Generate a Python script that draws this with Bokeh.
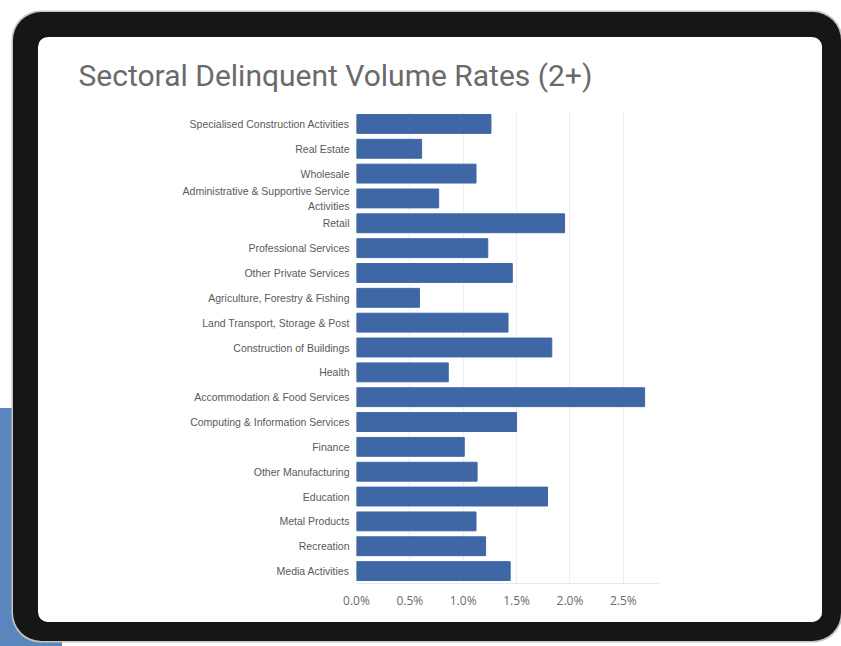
from bokeh.plotting import figure
from bokeh.models import FactorRange, Range1d, FixedTicker, PrintfTickFormatter
from bokeh.embed import file_html
from bokeh.resources import INLINE

title_text = "Sectoral Delinquent Volume Rates (2+)"

sectors = [
    "Specialised Construction Activities",
    "Real Estate",
    "Wholesale",
    "Administrative & Supportive Service\nActivities",
    "Retail",
    "Professional Services",
    "Other Private Services",
    "Agriculture, Forestry & Fishing",
    "Land Transport, Storage & Post",
    "Construction of Buildings",
    "Health",
    "Accommodation & Food Services",
    "Computing & Information Services",
    "Finance",
    "Other Manufacturing",
    "Education",
    "Metal Products",
    "Recreation",
    "Media Activities",
]

rates = [1.26, 0.61, 1.12, 0.77, 1.95, 1.23, 1.46, 0.59, 1.42, 1.83,
         0.86, 2.70, 1.50, 1.01, 1.13, 1.79, 1.12, 1.21, 1.44]

x_ticks = [0.0, 0.5, 1.0, 1.5, 2.0, 2.5]
x_max = 2.83

bar_color = "#3f67a6"

p = figure(
    width=784, height=585,
    y_range=FactorRange(factors=list(reversed(sectors))),
    x_range=Range1d(0, x_max),
    output_backend="svg", toolbar_location=None,
    margin=(37, 0, 0, 38),
    min_border_left=318, min_border_right=164,
    min_border_top=74, min_border_bottom=39,
    styles={
        "border-radius": "10px",
        "overflow": "hidden",
        "box-shadow": "-3px -3px 0 22px #161616, -3px -3px 0 23.5px #c4c4c4, -760px 371px 0 0 #5b86bd",
    },
)

p.hbar(y=sectors, right=rates, left=0, height=0.76, fill_color=bar_color,
       line_color=bar_color)

p.title.text = title_text
p.title.text_font = "Roboto"
p.title.text_font_style = "normal"
p.title.text_font_size = "30px"
p.title.text_color = "#6a6a6a"
p.title.offset = -278
p.title.standoff = 37

p.background_fill_color = "white"
p.border_fill_color = "white"
p.outline_line_color = None

p.xaxis.ticker = FixedTicker(ticks=x_ticks)
p.xaxis.formatter = PrintfTickFormatter(format="%.1f%%")
p.xaxis.axis_line_color = "#e8e8e8"
p.xaxis.major_tick_line_color = None
p.xaxis.major_tick_out = 0
p.xaxis.minor_tick_line_color = None
p.xaxis.major_label_text_font = "Open Sans"
p.xaxis.major_label_text_font_size = "12px"
p.xaxis.major_label_text_color = "#6a6a6a"
p.xaxis.major_label_standoff = 8

p.yaxis.axis_line_color = None
p.yaxis.major_tick_line_color = None
p.yaxis.major_tick_out = 0
p.yaxis.minor_tick_line_color = None
p.yaxis.major_label_text_font = "Liberation Sans"
p.yaxis.major_label_text_font_size = "10.5px"
p.yaxis.major_label_text_color = "#5a5a5a"
p.yaxis.major_label_standoff = 7

p.xgrid.grid_line_color = "#eeeeee"
p.ygrid.grid_line_color = None

open("out.html", "w").write(file_html(p, INLINE))
